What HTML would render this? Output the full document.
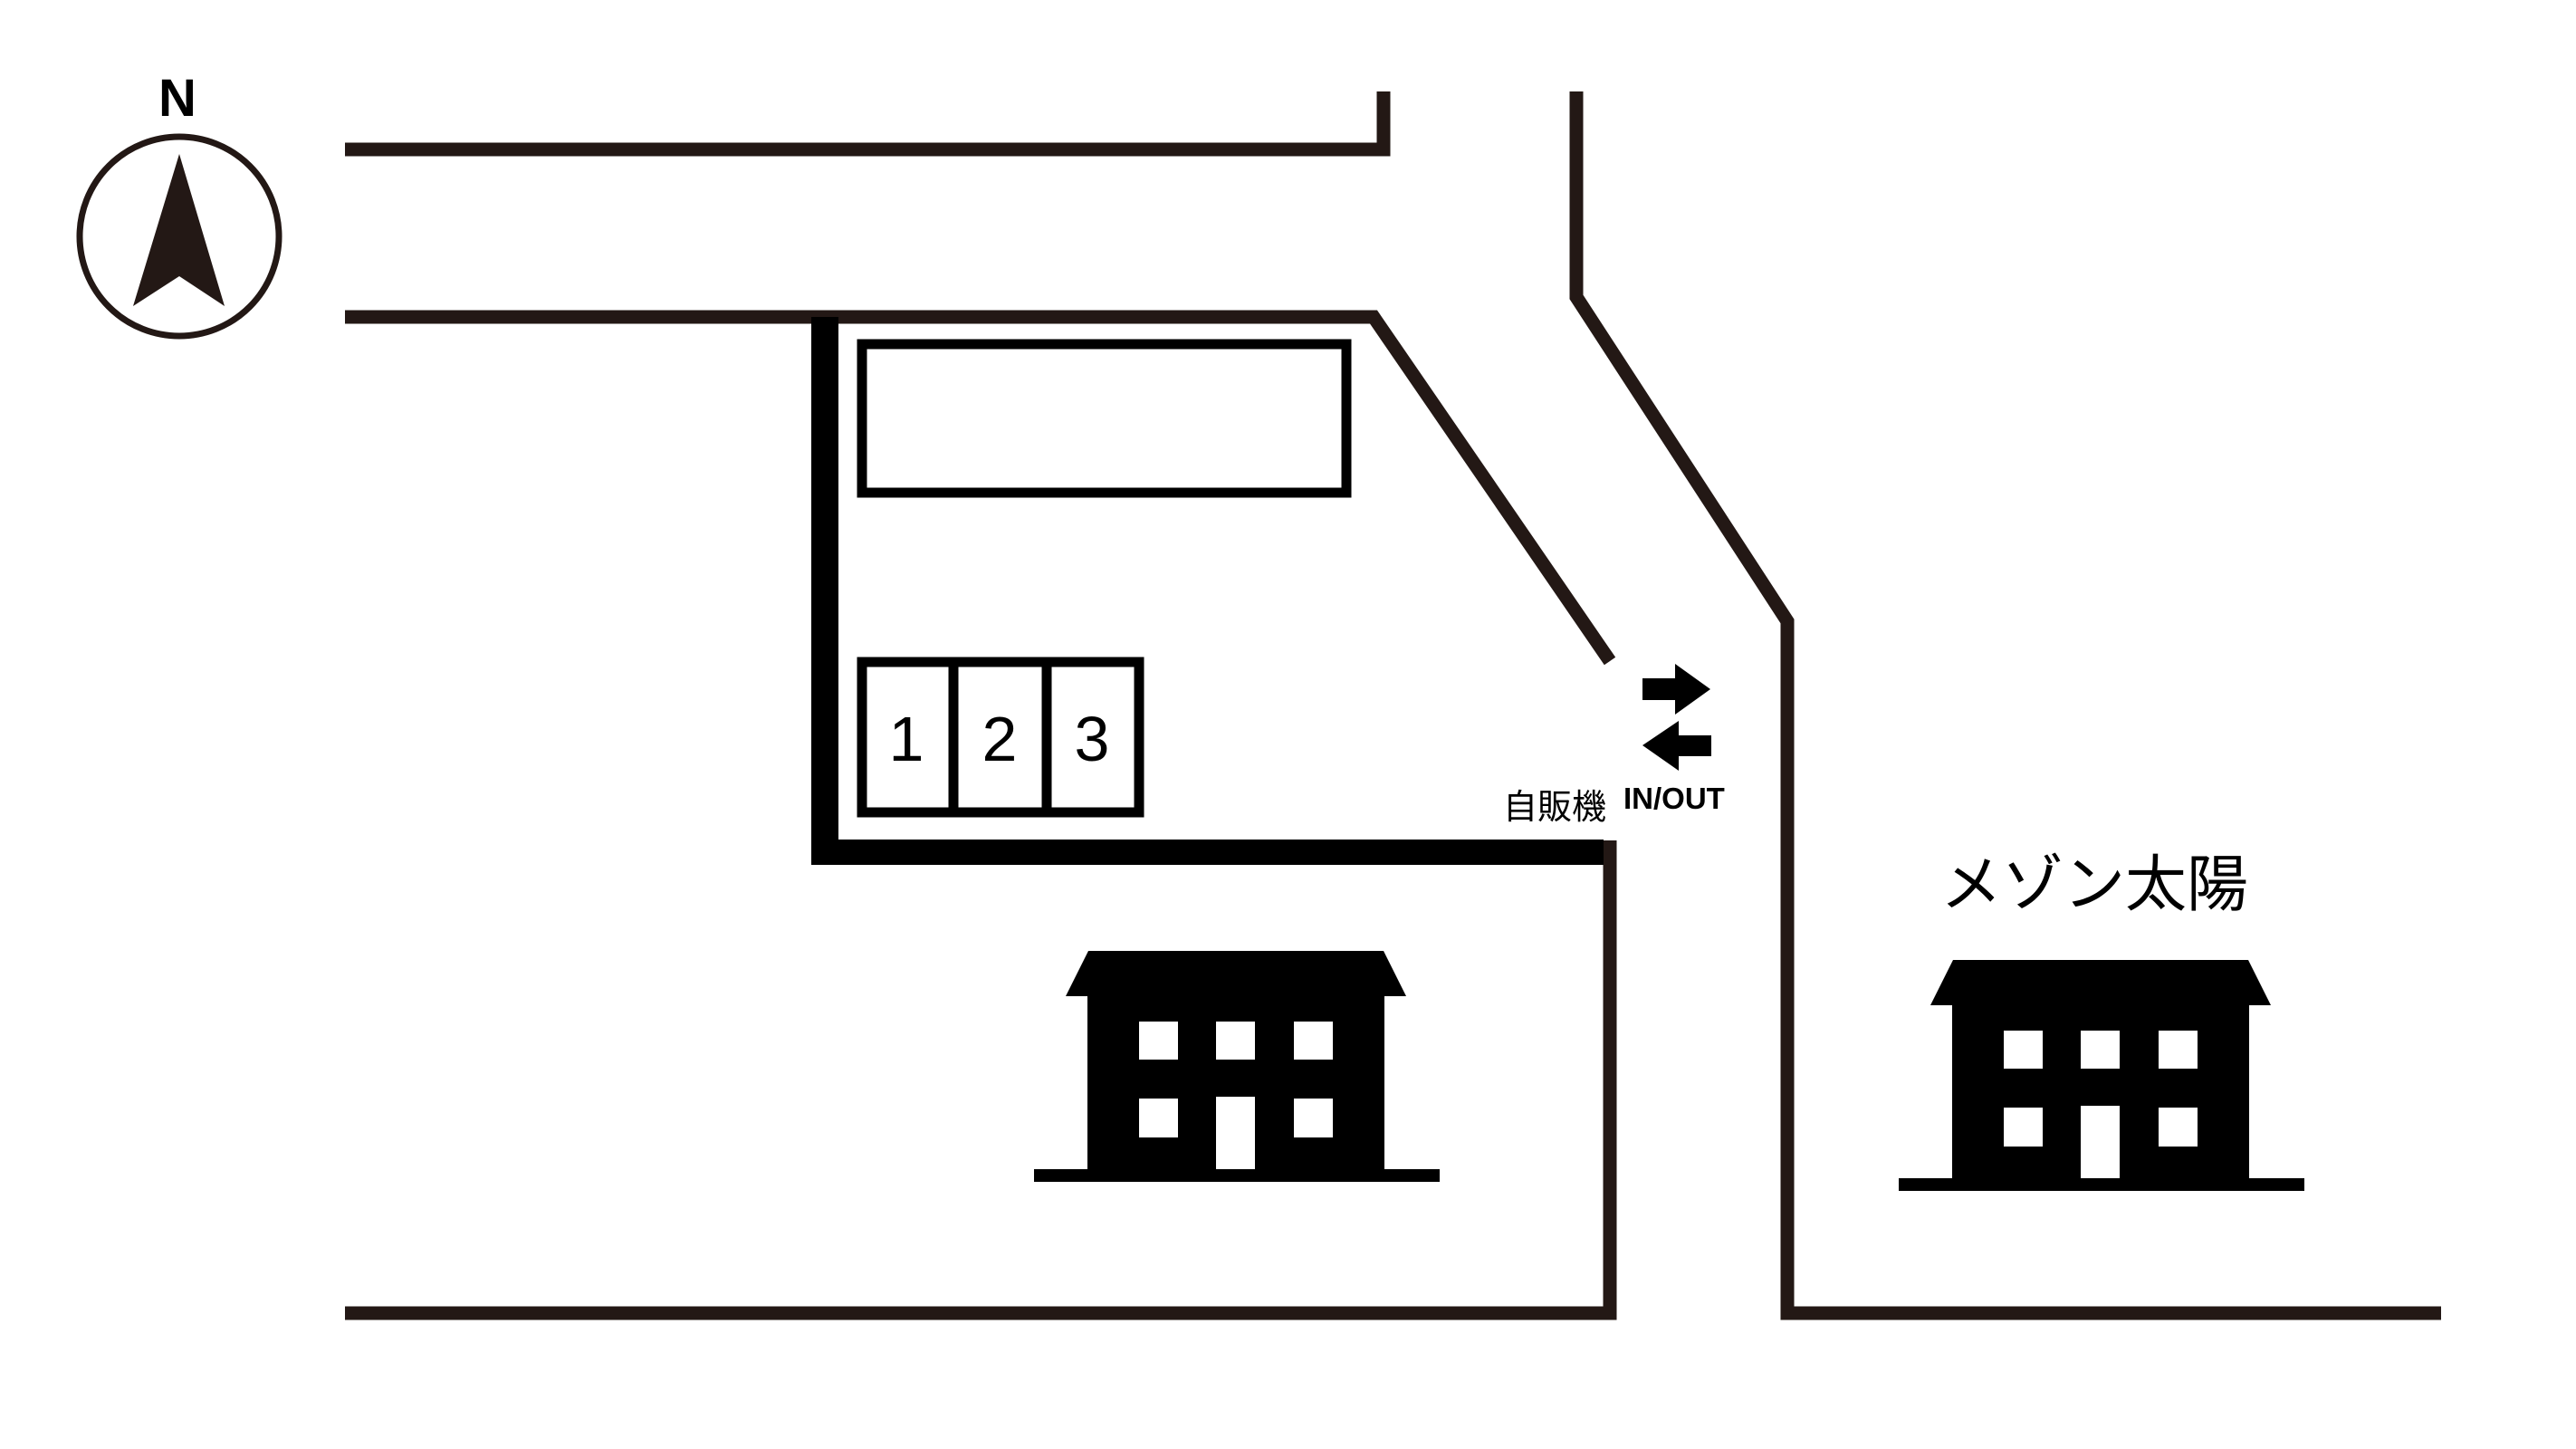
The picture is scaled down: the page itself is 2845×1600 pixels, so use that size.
<!DOCTYPE html>
<html><head><meta charset="utf-8"><style>
html,body{margin:0;padding:0;background:#fff;}
svg{display:block;}
</style></head><body>
<svg width="2845" height="1600" viewBox="0 0 2845 1600" xmlns="http://www.w3.org/2000/svg">
<rect width="2845" height="1600" fill="#fff"/>
<g fill="none" stroke="#231815" stroke-width="15" stroke-linecap="butt" stroke-linejoin="miter">
<polyline points="381,165 1528,165 1528,101"/>
<polyline points="381,350 1517,350 1778,730"/>
<polyline points="1741,101 1741,328 1974,686 1974,1450 2696,1450"/>
<polyline points="381,1450 1778,1450 1778,928"/>
</g>
<g fill="#000">
<rect x="896" y="350" width="30" height="605"/>
<rect x="896" y="927" width="875" height="28"/>
</g>
<rect x="952" y="380" width="535" height="164" fill="none" stroke="#000" stroke-width="11"/>
<g fill="none" stroke="#000" stroke-width="11">
<rect x="952" y="731" width="306" height="166"/>
<line x1="1053" y1="731" x2="1053" y2="897"/>
<line x1="1156" y1="731" x2="1156" y2="897"/>
</g>
<g font-family="'Liberation Sans','Noto Sans CJK JP',sans-serif" font-size="70" text-anchor="middle" fill="#000">
<text x="1001" y="840">1</text>
<text x="1104" y="840">2</text>
<text x="1206" y="840">3</text>
</g>
<circle cx="198" cy="261" r="110" fill="none" stroke="#231815" stroke-width="7"/>
<polygon points="198,170 248,338 198,305 147,338" fill="#231815"/>
<text x="196" y="128" font-family="'Liberation Sans',sans-serif" font-weight="bold" font-size="58" text-anchor="middle" fill="#000">N</text>
<g fill="#000">
<polygon points="1814,749 1850,749 1850,733 1889,761 1850,789 1850,773 1814,773"/>
<polygon points="1814,823 1854,796 1854,812 1890,812 1890,835 1854,835 1854,851"/>
</g>
<text x="1793" y="893" font-family="'Liberation Sans',sans-serif" font-weight="bold" font-size="33" fill="#000">IN/OUT</text>
<text x="1660" y="904" font-family="'Liberation Sans','Noto Sans CJK JP',sans-serif" font-size="38" fill="#000">自販機</text>
<text x="2313" y="1000" font-family="'Liberation Sans','Noto Sans CJK JP',sans-serif" font-size="68" text-anchor="middle" fill="#000">メゾン太陽</text>
<defs>
<g id="house">
<polygon points="1202,1050 1528,1050 1553,1100 1529,1100 1529,1291 1590,1291 1590,1305 1142,1305 1142,1291 1201,1291 1201,1100 1177,1100" fill="#000"/>
<g fill="#fff">
<rect x="1258" y="1128" width="43" height="42"/>
<rect x="1343" y="1128" width="43" height="42"/>
<rect x="1429" y="1128" width="43" height="42"/>
<rect x="1258" y="1213" width="43" height="43"/>
<rect x="1343" y="1211" width="43" height="80"/>
<rect x="1429" y="1213" width="43" height="43"/>
</g>
</g>
</defs>
<use href="#house"/>
<use href="#house" transform="translate(955,10)"/>
</svg>
</body></html>
